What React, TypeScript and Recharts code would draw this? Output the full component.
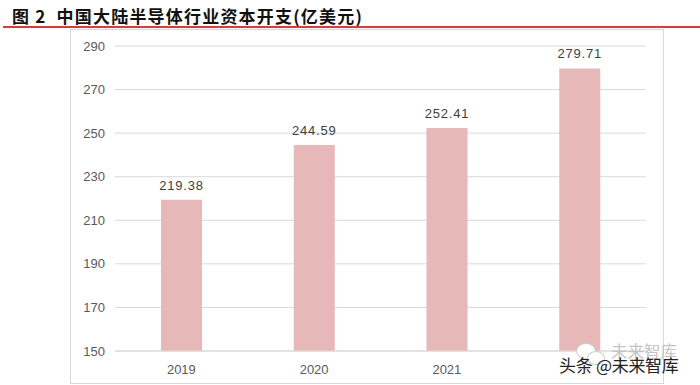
import React from "react";
import { BarChart, Bar, XAxis, YAxis, CartesianGrid, LabelList } from "recharts";

const years = ["2019", "2020", "2021", "2022"];
const capex = [219.38, 244.59, 252.41, 279.71];
const yTicks = [150, 170, 190, 210, 230, 250, 270, 290];
const xLabels = ["2019", "2020", "2021", ""];

const data = years.map((y, i) => ({ year: y, label: xLabels[i], value: capex[i] }));

const font = "'Liberation Sans', Arial, 'Noto Sans CJK SC', sans-serif";

export default function App() {
  return (
    <div style={{ position: "absolute", left: 0, top: 0, width: 700, height: 385, background: "#fff", overflow: "hidden" }}>
      <div style={{ position: "absolute", left: 12, top: 3, fontFamily: "'Noto Sans CJK SC', sans-serif", fontWeight: 700, fontSize: 17, color: "#111", whiteSpace: "nowrap", letterSpacing: 1.2 }}>
        图 2&nbsp; 中国大陆半导体行业资本开支(亿美元)
      </div>
      <div style={{ position: "absolute", left: 3, top: 26, width: 697, height: 2, background: "#d83b3b" }} />
      <div style={{ position: "absolute", left: 70, top: 29, width: 592, height: 353, border: "1px solid #d9d9d9" }} />
      <div style={{ position: "absolute", left: 0, top: 0 }}>
        <BarChart width={700} height={385} data={data} margin={{ top: 46, right: 54, left: 0, bottom: 4 }}>
          <CartesianGrid vertical={false} stroke="#d9d9d9" />
          <YAxis
            domain={[150, 290]}
            ticks={yTicks}
            width={115}
            axisLine={false}
            tickLine={false}
            tickMargin={4}
            allowDataOverflow
            tick={{ fontSize: 13, fill: "#595959", fontFamily: font }}
          />
          <XAxis
            dataKey="label"
            axisLine={{ stroke: "#d9d9d9" }}
            tickLine={false}
            tickMargin={8}
            tick={{ fontSize: 13, fill: "#595959", fontFamily: font }}
          />
          <Bar dataKey="value" fill="#e6b8b7" barSize={41} isAnimationActive={false}>
            <LabelList dataKey="value" position="top" offset={10} style={{ fontSize: 13, fill: "#404040", fontFamily: font, letterSpacing: 0.8 }} formatter={(v: any) => Number(v).toFixed(2)} />
          </Bar>
        </BarChart>
      </div>
      <div style={{ position: "absolute", left: 611, top: 339, fontFamily: "'Noto Sans CJK SC', sans-serif", fontSize: 16.5, color: "#c4c4c4", whiteSpace: "nowrap" }}>未来智库</div>
      <div style={{ position: "absolute", left: 576, top: 343, width: 18, height: 14, borderRadius: "50%", border: "1px solid #ccc", background: "#fff" }} />
      <div style={{ position: "absolute", left: 587, top: 351, width: 16, height: 12, borderRadius: "50%", border: "1px solid #ccc", background: "#fff" }} />
      <div style={{ position: "absolute", left: 559, top: 352, fontFamily: "'Noto Sans CJK SC', sans-serif", fontSize: 17, color: "#222", whiteSpace: "nowrap", letterSpacing: -0.3 }}>头条 @未来智库</div>
    </div>
  );
}
